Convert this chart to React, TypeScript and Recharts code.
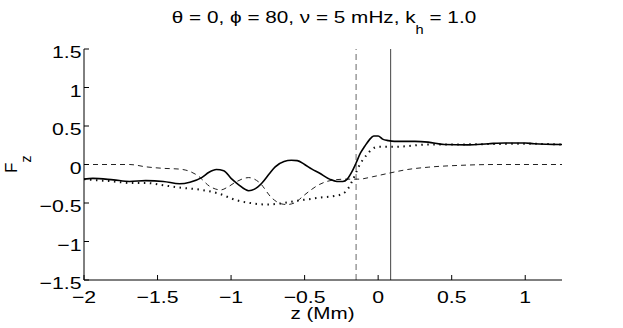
import React from 'react';
import { LineChart, Line, XAxis, YAxis, ReferenceLine } from 'recharts';

// axis ticks
const xTicks = [-2, -1.5, -1, -0.5, 0, 0.5, 1];
const yTicks = [-1.5, -1, -0.5, 0, 0.5, 1, 1.5];

// solid curve
const zSolid = [-2, -1.94, -1.8, -1.69, -1.58, -1.46, -1.35, -1.28, -1.2, -1.15, -1.1, -1.05, -1, -0.95, -0.88, -0.84, -0.79, -0.74, -0.7, -0.64, -0.59, -0.55, -0.5, -0.45, -0.4, -0.33, -0.28, -0.24, -0.21, -0.18, -0.15, -0.12, -0.09, -0.06, -0.03, 0, 0.03, 0.07, 0.11, 0.25, 0.34, 0.45, 0.61, 0.75, 0.86, 1, 1.06, 1.25];
const fSolid = [-0.19, -0.18, -0.2, -0.22, -0.21, -0.22, -0.25, -0.23, -0.17, -0.1, -0.065, -0.08, -0.18, -0.26, -0.34, -0.32, -0.24, -0.12, -0.03, 0.04, 0.055, 0.05, 0, -0.06, -0.11, -0.19, -0.22, -0.22, -0.19, -0.1, 0.02, 0.15, 0.24, 0.32, 0.37, 0.37, 0.33, 0.31, 0.3, 0.3, 0.29, 0.26, 0.255, 0.27, 0.28, 0.28, 0.27, 0.26];

// dotted curve
const zDotted = [-2, -1.94, -1.8, -1.69, -1.58, -1.46, -1.35, -1.2, -1.08, -0.97, -0.87, -0.76, -0.64, -0.55, -0.47, -0.4, -0.3, -0.24, -0.2, -0.17, -0.13, -0.08, -0.04, 0, 0.12, 0.34, 0.5, 0.75, 1, 1.25];
const fDotted = [-0.19, -0.2, -0.22, -0.24, -0.24, -0.27, -0.3, -0.33, -0.38, -0.46, -0.5, -0.52, -0.5, -0.47, -0.45, -0.43, -0.41, -0.38, -0.3, -0.19, -0.02, 0.12, 0.2, 0.23, 0.23, 0.26, 0.26, 0.265, 0.27, 0.26];

// dashed curve
const zDashed = [-2, -1.69, -1.58, -1.46, -1.35, -1.28, -1.23, -1.14, -1.07, -1.02, -0.97, -0.88, -0.81, -0.72, -0.66, -0.62, -0.56, -0.51, -0.4, -0.3, -0.21, -0.13, -0.04, 0.08, 0.2, 0.34, 0.57, 0.8, 1.25];
const fDashed = [0, 0, -0.03, -0.05, -0.06, -0.09, -0.14, -0.29, -0.33, -0.29, -0.23, -0.17, -0.23, -0.44, -0.51, -0.52, -0.49, -0.41, -0.26, -0.2, -0.19, -0.19, -0.16, -0.11, -0.065, -0.035, -0.01, 0, 0];

// vertical markers
const zMarkDashed = -0.15;
const zMarkSolid = 0.085;

const FONT = '"Liberation Sans", Arial, Helvetica, sans-serif';
const SX = 1.25; // text in the figure is stretched horizontally

const toPoints = (zs: number[], fs: number[]) => zs.map((z, i) => ({ z, f: fs[i] }));
const fmt = (v: number) => (v < 0 ? '\u2212' + String(-v) : String(v));

const XTick = (props: any) => {
  const { x, y, payload } = props;
  return (
    <g transform={`translate(${x},${y + 27.5}) scale(${SX},1)`}>
      <text textAnchor="middle" fontSize={17} fontFamily={FONT} fill="#000">
        {fmt(payload.value)}
      </text>
    </g>
  );
};

const YTick = (props: any) => {
  const { x, y, payload } = props;
  return (
    <g transform={`translate(${x - 7.5},${y + 9}) scale(${SX},1)`}>
      <text textAnchor="end" fontSize={17} fontFamily={FONT} fill="#000">
        {fmt(payload.value)}
      </text>
    </g>
  );
};

const blank = () => '';

const App: React.FC = () => {
  return (
    <div style={{ position: 'absolute', left: 0, top: 0, width: 623, height: 328, background: '#fff' }}>
      <LineChart width={623} height={328} margin={{ top: 49, right: 61, bottom: 18, left: 44 }}>
        <XAxis
          dataKey="z"
          type="number"
          domain={[-2, 1.25]}
          allowDataOverflow
          ticks={xTicks}
          height={30}
          tickSize={-5}
          tickMargin={0}
          tick={<XTick />}
          stroke="#000"
        />
        <XAxis
          xAxisId="top"
          orientation="top"
          type="number"
          domain={[-2, 1.25]}
          allowDataOverflow
          ticks={xTicks}
          height={0}
          tickSize={-5}
          tickFormatter={blank}
          stroke="#000"
        />
        <YAxis
          type="number"
          domain={[-1.5, 1.5]}
          allowDataOverflow
          ticks={yTicks}
          width={40}
          tickSize={-5}
          tickMargin={0}
          tick={<YTick />}
          stroke="#000"
        />
        <YAxis
          yAxisId="right"
          orientation="right"
          type="number"
          domain={[-1.5, 1.5]}
          allowDataOverflow
          ticks={yTicks}
          width={0}
          tickSize={-5}
          tickFormatter={blank}
          stroke="#000"
        />
        <ReferenceLine x={zMarkDashed} stroke="#666" strokeDasharray="6 4" />
        <ReferenceLine x={zMarkSolid} stroke="#444" />
        <Line
          data={toPoints(zDashed, fDashed)}
          dataKey="f"
          type="monotone"
          stroke="#222"
          strokeWidth={1}
          strokeDasharray="5 4"
          dot={false}
          isAnimationActive={false}
        />
        <Line
          data={toPoints(zDotted, fDotted)}
          dataKey="f"
          type="monotone"
          stroke="#111"
          strokeWidth={2}
          strokeDasharray="1.5 4.5"
          dot={false}
          isAnimationActive={false}
        />
        <Line
          data={toPoints(zSolid, fSolid)}
          dataKey="f"
          type="monotone"
          stroke="#000"
          strokeWidth={1.6}
          dot={false}
          isAnimationActive={false}
        />
      </LineChart>
      <svg
        width={623}
        height={328}
        style={{ position: 'absolute', left: 0, top: 0, pointerEvents: 'none' }}
        fontFamily={FONT}
      >
        <g transform={`translate(324,22.5) scale(1.22,1)`}>
          <text textAnchor="middle" fontSize={17} fill="#000">
            θ = 0, ϕ = 80, ν = 5 mHz, k
            <tspan fontSize={12} dy={12}>h</tspan>
            <tspan dy={-12}> = 1.0</tspan>
          </text>
        </g>
        <g transform={`translate(322.5,319) scale(${SX},1)`}>
          <text textAnchor="middle" fontSize={16.5} fill="#000">z (Mm)</text>
        </g>
        <g transform="translate(17,173) rotate(-90)">
          <text textAnchor="start" fontSize={17} fill="#000">
            F<tspan fontSize={14} dy={14}>z</tspan>
          </text>
        </g>
      </svg>
    </div>
  );
};

export default App;
